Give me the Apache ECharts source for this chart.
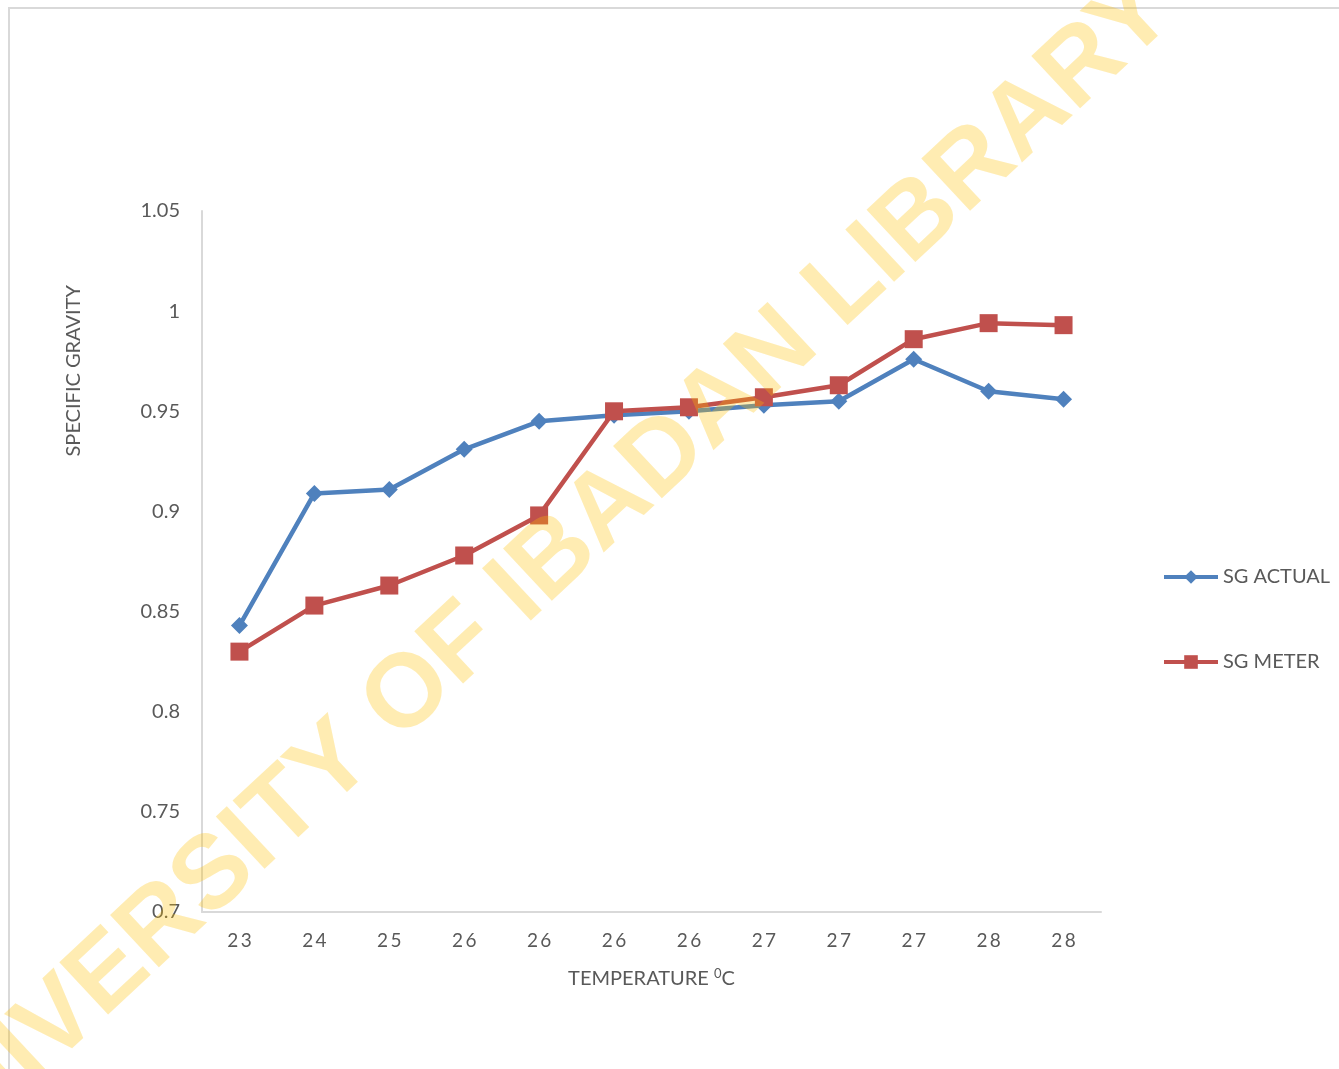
<!DOCTYPE html>
<html>
<head>
<meta charset="utf-8">
<script src="https://cdn.jsdelivr.net/npm/echarts@6/dist/echarts.min.js"></script>
<style>
  html, body { margin: 0; padding: 0; background: #fff; }
  #chart { width: 1339px; height: 1069px; }
</style>
</head>
<body>
<div id="chart"></div>
<script>
// temperature readings (deg C) along the x axis
const categories = ['23', '24', '25', '26', '26', '26', '26', '27', '27', '27', '28', '28']
const sgActual = [0.843, 0.909, 0.911, 0.931, 0.945, 0.948, 0.950, 0.953, 0.955, 0.976, 0.960, 0.956]
const sgMeter = [0.830, 0.853, 0.863, 0.878, 0.898, 0.950, 0.952, 0.957, 0.963, 0.986, 0.994, 0.993]
const yTicks = [0.7, 0.75, 0.8, 0.85, 0.9, 0.95, 1, 1.05]

const font = 'Lato, "Noto Sans", sans-serif'
const textColor = '#595959'

let myChart = echarts.init(document.getElementById('chart'))

let option = {
  backgroundColor: '#fff',
  color: ['#4F81BD', '#C0504D'],
  grid: {
    left: 202,
    right: 238,
    top: 211,
    bottom: 157
  },
  legend: {
    orient: 'vertical',
    left: 1157,
    top: 562,
    itemWidth: 54,
    itemHeight: 17,
    itemGap: 65,
    lineStyle: { width: 4 },
    textStyle: { color: textColor, fontSize: 20, fontFamily: font },
    data: ['SG ACTUAL', 'SG METER']
  },
  xAxis: {
    type: 'category',
    data: categories,
    boundaryGap: true,
    name: 'TEMPERATURE {sup|0}C',
    nameLocation: 'middle',
    nameGap: 55,
    nameTextStyle: {
      color: textColor,
      fontSize: 20,
      fontFamily: font,
      rich: {
        sup: { fontSize: 13, color: textColor, fontFamily: font, verticalAlign: 'top', padding: [0, 0, 10, 0] }
      }
    },
    axisLine: { lineStyle: { color: '#d9d9d9', width: 2 } },
    axisTick: { show: false },
    axisLabel: {
      color: textColor,
      fontSize: 19,
      fontFamily: font,
      margin: 19,
      // spread digits like the source
      formatter: v => v.split('').join('\u2009')
    }
  },
  yAxis: {
    type: 'value',
    min: yTicks[0],
    max: yTicks[yTicks.length - 1],
    interval: 0.05,
    axisLine: { show: true, lineStyle: { color: '#d9d9d9', width: 2 } },
    axisTick: { show: false },
    splitLine: { show: false },
    axisLabel: {
      color: textColor,
      fontSize: 20,
      fontFamily: font,
      margin: 22,
      formatter: v => String(parseFloat(v.toFixed(2)))
    }
  },
  series: [
    {
      name: 'SG ACTUAL',
      type: 'line',
      data: sgActual,
      symbol: 'diamond',
      symbolSize: 17,
      lineStyle: { width: 4.5 },
      z: 3
    },
    {
      name: 'SG METER',
      type: 'line',
      data: sgMeter,
      symbol: 'rect',
      symbolSize: 18,
      lineStyle: { width: 4.5 },
      z: 4
    }
  ],
  graphic: [
    {
      // chart frame
      type: 'rect',
      silent: true,
      z: 0,
      shape: { x: 9, y: 8, width: 1400, height: 1100 },
      style: { fill: 'none', stroke: '#d9d9d9', lineWidth: 2 }
    },
    {
      type: 'text',
      left: 64,
      top: 285,
      rotation: Math.PI / 2,
      style: { text: 'SPECIFIC GRAVITY', fill: textColor, font: '20px ' + font }
    },
    {
      // library watermark over the chart
      type: 'text',
      silent: true,
      z: 100,
      x: 530,
      y: 582,
      rotation: 43 * Math.PI / 180,
      style: {
        text: 'UNIVERSITY OF IBADAN LIBRARY',
        fill: 'rgba(255,192,0,0.3)',
        font: 'bold 104px "Liberation Sans", Arial, sans-serif',
        align: 'center',
        verticalAlign: 'middle'
      }
    }
  ]
}

myChart.setOption(option)
window.addEventListener('resize', function () {
  myChart.resize()
})
</script>
</body>
</html>
